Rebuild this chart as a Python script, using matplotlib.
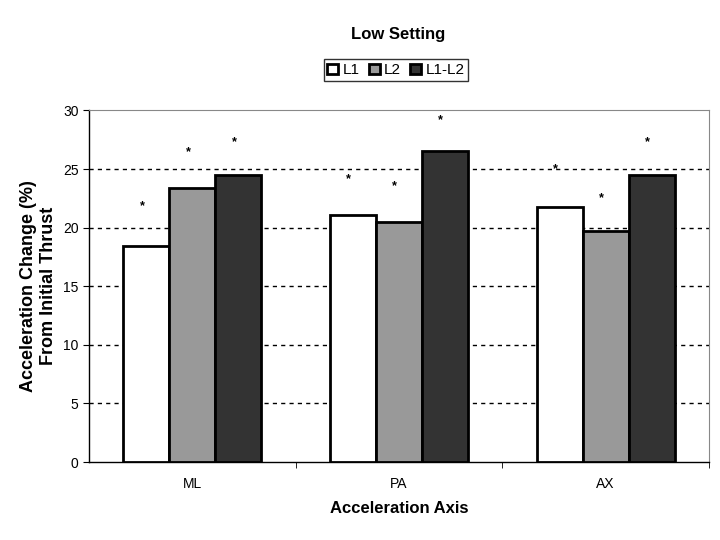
import numpy as np
import matplotlib
matplotlib.use('Agg')
import matplotlib.pyplot as plt

plt.rcParams['font.family'] = ['Liberation Sans', 'DejaVu Sans']

categories = ['ML', 'PA', 'AX']
series_names = ['L1', 'L2', 'L1-L2']
l1 = [18.4, 21.1, 21.8]
l2 = [23.4, 20.5, 19.7]
l1_l2 = [24.5, 26.5, 24.5]
# heights where the significance stars sit
star_l1 = [21.8, 24.1, 25.0]
star_l2 = [26.4, 23.5, 22.5]
star_l1_l2 = [27.3, 29.2, 27.3]

colors = ['white', '#999999', '#333333']

fig = plt.figure(figsize=(7.2, 5.4), dpi=100)
ax = fig.add_axes([0.1236, 0.1444, 0.8611, 0.651])

x = np.arange(len(categories))
w = 0.2226
values = [l1, l2, l1_l2]
stars = [star_l1, star_l2, star_l1_l2]
for i in range(3):
    pos = x + (i - 1) * w
    ax.bar(pos, values[i], w, color=colors[i], edgecolor='black', linewidth=2,
           label=series_names[i], zorder=3)
    for px, sy in zip(pos, stars[i]):
        ax.text(px - 0.02, sy, '*', ha='center', va='center', fontsize=9,
                fontweight='bold', zorder=4)

ax.set_xlim(-0.5, 2.5)
ax.set_ylim(0, 30)
ax.set_yticks(range(0, 31, 5))
ax.set_xticks(x)
ax.set_xticklabels(categories)
ax.set_xticks([0.5, 1.5, 2.5], minor=True)
ax.tick_params(axis='x', which='major', length=0, pad=11, labelsize=10)
ax.tick_params(axis='x', which='minor', length=4, direction='out')
ax.tick_params(axis='y', length=4, direction='out', labelsize=10)

for v in range(5, 30, 5):
    ax.axhline(v, color='black', linestyle=(0, (3, 3)), linewidth=1, zorder=1)

ax.spines['top'].set_color('#888888')
ax.spines['right'].set_color('#888888')
ax.spines['left'].set_linewidth(1)
ax.spines['bottom'].set_linewidth(1)

ax.set_ylabel('Acceleration Change (%)\nFrom Initial Thrust', fontsize=13,
              fontweight='bold', labelpad=4, linespacing=1.25)
ax.set_xlabel('Acceleration Axis', fontsize=12, fontweight='bold', labelpad=7)

fig.text(0.553, 0.937, 'Low Setting', ha='center', va='center', fontsize=12, fontweight='bold')
leg = fig.legend(loc='center', bbox_to_anchor=(0.550, 0.870), ncol=3, frameon=True,
                 fancybox=False, edgecolor='black', fontsize=11, handlelength=0.7,
                 handleheight=0.7, handletextpad=0.3, columnspacing=0.6,
                 borderpad=0.25, borderaxespad=0)
leg.get_frame().set_linewidth(1)

fig.savefig('out.png', dpi=100)
